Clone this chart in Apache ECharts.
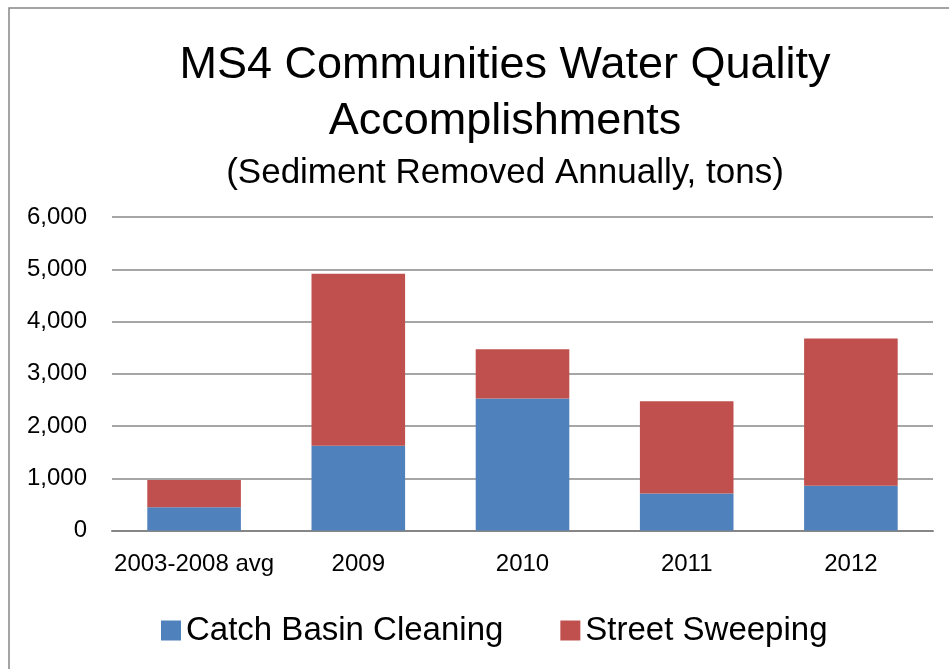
<!DOCTYPE html>
<html>
<head>
<meta charset="utf-8">
<script src="https://cdn.jsdelivr.net/npm/echarts@6/dist/echarts.min.js"></script>
<style>
html,body{margin:0;padding:0;background:#fff;}
#c{width:949px;height:669px;}
</style>
</head>
<body>
<div id="c"></div>
<script>
const categories = ['2003-2008 avg', '2009', '2010', '2011', '2012'];
const catchBasin = [445, 1620, 2525, 710, 855];
const streetSweeping = [520, 3295, 945, 1765, 2820];
const seriesNames = ['Catch Basin Cleaning', 'Street Sweeping'];
const titleLines = ['MS4 Communities Water Quality', 'Accomplishments'];
const subtitle = '(Sediment Removed Annually, tons)';
const yTicks = [0, 1000, 2000, 3000, 4000, 5000, 6000];

const FONT = '"Liberation Sans", Arial, sans-serif';
const chart = echarts.init(document.getElementById('c'), null, {renderer: 'canvas'});
chart.setOption({
  backgroundColor: '#fff',
  animation: false,
  graphic: [
    {type: 'rect', shape: {x: 9, y: 8, width: 960, height: 700}, style: {fill: 'none', stroke: '#868686', lineWidth: 1.5}, silent: true},
    {type: 'text', x: 505, y: 66, style: {text: titleLines[0], font: '45px ' + FONT, fill: '#000', textAlign: 'center', textVerticalAlign: 'middle'}},
    {type: 'text', x: 505, y: 122, style: {text: titleLines[1], font: '45px ' + FONT, fill: '#000', textAlign: 'center', textVerticalAlign: 'middle'}},
    {type: 'text', x: 505, y: 173, style: {text: subtitle, font: '35px ' + FONT, fill: '#000', textAlign: 'center', textVerticalAlign: 'middle'}}
  ],
  legend: {
    data: seriesNames,
    left: 156, top: 609,
    itemWidth: 20, itemHeight: 20, itemGap: 57,
    icon: 'rect',
    textStyle: {fontFamily: FONT, fontSize: 33, color: '#000', padding: [0, 0, 0, 0]}
  },
  grid: {left: 112, right: 16, top: 217, bottom: 138.5, containLabel: false},
  xAxis: {
    type: 'category', data: categories,
    axisLine: {lineStyle: {color: '#868686', width: 2}},
    axisTick: {show: false},
    axisLabel: {fontFamily: FONT, fontSize: 24, color: '#000', margin: 22, interval: 0}
  },
  yAxis: {
    type: 'value', min: yTicks[0], max: yTicks[yTicks.length - 1], interval: 1000,
    axisLine: {show: false}, axisTick: {show: false},
    splitLine: {lineStyle: {color: '#898989', width: 1.5}},
    axisLabel: {fontFamily: FONT, fontSize: 24, color: '#000', margin: 25,
      formatter: v => v.toLocaleString('en-US')}
  },
  series: [
    {name: seriesNames[0], type: 'bar', stack: 's', data: catchBasin, barCategoryGap: '43%', itemStyle: {color: '#4F81BD'}},
    {name: seriesNames[1], type: 'bar', stack: 's', data: streetSweeping, barCategoryGap: '43%', itemStyle: {color: '#C0504D'}}
  ]
});
</script>
</body>
</html>
